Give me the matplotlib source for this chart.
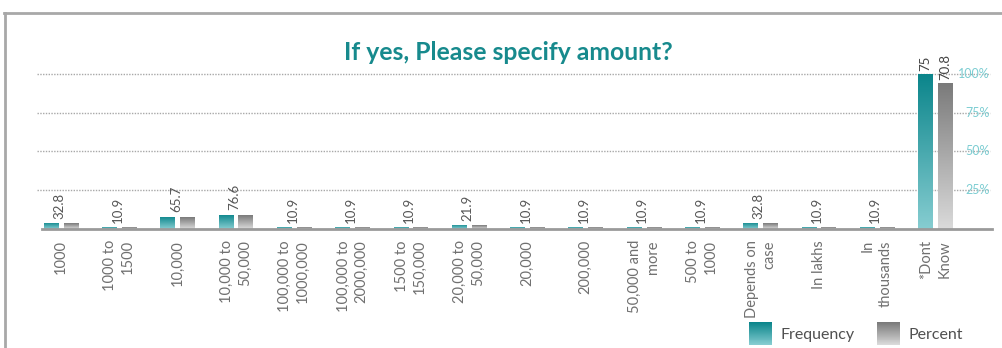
import numpy as np
import matplotlib
matplotlib.use("Agg")
import matplotlib.pyplot as plt
from matplotlib.colors import LinearSegmentedColormap, to_rgb
from matplotlib.patches import Rectangle
from matplotlib.lines import Line2D
from matplotlib.legend_handler import HandlerBase

plt.rcParams['font.family'] = ['Lato', 'DejaVu Sans']

categories = ["1000", "1000 to\n1500", "10,000", "10,000 to\n50,000",
              "100,000 to\n1000,000", "100,000 to\n2000,000", "1500 to\n150,000",
              "20,000 to\n50,000", "20,000", "200,000", "50,000 and\nmore",
              "500 to\n1000", "Depends on\ncase", "In lakhs", "In\nthousands",
              "*Dont\nKnow"]
frequency = [3, 1, 6, 7, 1, 1, 1, 2, 1, 1, 1, 1, 3, 1, 1, 75]
percent = [2.8, 0.9, 5.7, 6.6, 0.9, 0.9, 0.9, 1.9, 0.9, 0.9, 0.9, 0.9, 2.8, 0.9, 0.9, 70.8]
pct_ticks = [25, 50, 75, 100]

TEAL = ("#0b858b", "#86cdd1")   # top, bottom
GREY = ("#7a7a7a", "#dadada")
TITLE_C = "#178a8d"


def gradient_bar(ax, x, h, w, colors):
    bar = ax.bar(x, h, w, color="none", linewidth=0, zorder=2)[0]
    cmap = LinearSegmentedColormap.from_list("g", [colors[1], colors[0]])
    img = ax.imshow(np.linspace(0, 1, 128).reshape(-1, 1), cmap=cmap,
                    extent=[x - w / 2, x + w / 2, 0, h], origin="lower",
                    aspect="auto", zorder=2, interpolation="bilinear")
    img.set_clip_path(bar)


class GradientHandler(HandlerBase):
    def __init__(self, colors):
        super().__init__()
        self.colors = colors

    def create_artists(self, legend, orig_handle, xdescent, ydescent,
                       width, height, fontsize, trans):
        top, bot = np.array(to_rgb(self.colors[0])), np.array(to_rgb(self.colors[1]))
        n = 24
        side = width
        x0 = -xdescent
        y0 = -ydescent - (side - height) / 2
        rects = []
        for k in range(n):
            c = bot + (top - bot) * k / (n - 1)
            rects.append(Rectangle((x0, y0 + side * k / n), side, side / n + 0.3,
                                   facecolor=c, edgecolor="none", transform=trans))
        return rects


fig = plt.figure(figsize=(10.02, 3.48), dpi=100)
ax = fig.add_axes([0.0419, 0.342, 0.948, 0.475])

x = np.arange(len(categories))
w = 0.25
off = 0.17
for i in x:
    gradient_bar(ax, i - off, frequency[i], w, TEAL)
    gradient_bar(ax, i + off, percent[i], w, GREY)

# value labels: tall bars get one label each, short ones share a stacked label
for i in x:
    f, p = frequency[i], percent[i]
    if f > 20:
        ax.annotate(f"{f}", (i - off, f), xytext=(0, 2), textcoords="offset points",
                    rotation=90, ha="center", va="bottom", fontsize=9.5, color="#444")
        ax.annotate(f"{p:.1f}", (i + off, p), xytext=(0, 2), textcoords="offset points",
                    rotation=90, ha="center", va="bottom", fontsize=9.5, color="#444")
    else:
        ax.annotate(f"{f}{p:.1f}", (i - 0.03, max(f, p)), xytext=(0, 3),
                    textcoords="offset points", rotation=90, ha="center",
                    va="bottom", fontsize=9.5, color="#555")

# dotted gridlines with percent labels, 100% at the largest frequency
top = max(frequency)
for t in pct_ticks:
    yv = top * t / 100
    ax.axhline(yv, xmin=-0.005, xmax=0.998, color="#a8a8a8", lw=1.0,
               ls=(0, (1, 1)), zorder=1, clip_on=False)
    ax.text(15.93, yv, f"{t}%", ha="right", va="center", fontsize=9,
            color="#7ccdd2", zorder=3)

ax.set_xlim(-0.326, 15.97)
ax.set_ylim(0, 80)
ax.set_xticks(x)
ax.set_xticklabels(categories, rotation=90, ha="center", va="top",
                   multialignment="right", fontsize=10.5, color="#707070",
                   linespacing=1.35)
ax.tick_params(axis="x", length=0, pad=8)
ax.set_yticks([])
for s in ["top", "right", "left"]:
    ax.spines[s].set_visible(False)
ax.spines["bottom"].set_color("#9a9a9a")
ax.spines["bottom"].set_linewidth(2)

fig.text(0.507, 0.85, "If yes, Please specify amount?", ha="center", va="center",
         fontsize=17.8, fontweight="bold", color=TITLE_C)

h1 = Rectangle((0, 0), 1, 1)
h2 = Rectangle((0, 0), 1, 1)
fig.legend([h1, h2], ["Frequency", "Percent"],
           handler_map={h1: GradientHandler(TEAL), h2: GradientHandler(GREY)},
           loc="lower right", bbox_to_anchor=(0.975, -0.025), ncol=2, frameon=False,
           fontsize=11.5, handlelength=1.45, handletextpad=0.5, columnspacing=1.4,
           labelcolor="#505050")

# outer frame
fig.add_artist(Line2D([0.004, 1.0], [0.963, 0.963], color="#a8a8a8", lw=2,
                      transform=fig.transFigure))
fig.add_artist(Line2D([0.005, 0.005], [0.0, 0.963], color="#a8a8a8", lw=2,
                      transform=fig.transFigure))

fig.savefig("out.png", dpi=100, facecolor="white")
